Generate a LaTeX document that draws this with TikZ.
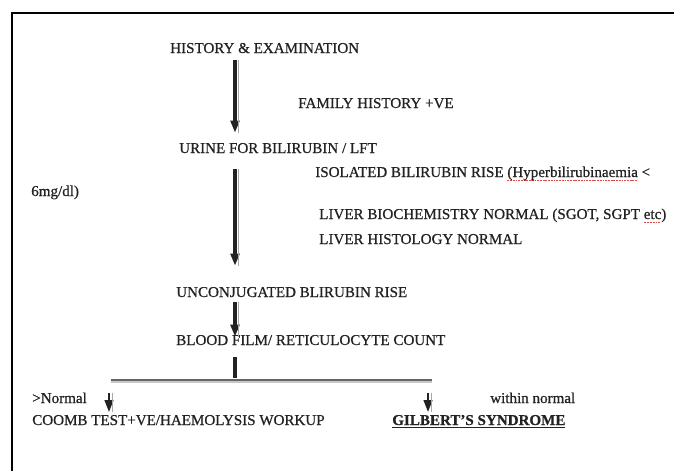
\documentclass[tikz,border=0pt]{standalone}
\usepackage{fontspec}
\setmainfont{Liberation Serif}
\usepackage{xcolor}
\usetikzlibrary{arrows.meta,calc,positioning}
\definecolor{ink}{HTML}{222222}
\definecolor{shade}{HTML}{A8A8A8}
\definecolor{spell}{HTML}{E04848}
\newsavebox\spellbox
\newcommand\spellmark[1]{\leavevmode\sbox\spellbox{#1}\rlap{\textcolor{spell}{\lower2.4pt\hbox to\wd\spellbox{\xleaders\hbox{\rule{1.4pt}{0.45pt}\kern0.6pt}\hfil}}}\usebox\spellbox}
\tikzset{lab/.style={anchor=base west, inner sep=0pt, text height=7.5pt, text depth=0pt, font=\fontsize{11.3}{13}\selectfont\addfontfeature{FakeBold=0.7}, text=ink}, flow/.style={-{Triangle[length=9pt,width=6.5pt]}, line width=2.3pt, color=ink, postaction={draw=shade, line width=.45pt, -, transform canvas={xshift=2.6pt}}}, stem/.style={line width=2.3pt, color=ink}, frame/.style={line width=2.2pt, color=black}}

\begin{document}
\begin{tikzpicture}[x=0.75pt,y=-0.75pt]
\useasboundingbox (0,0) rectangle (674,471);
\draw[frame] (12,471) -- (12,13) -- (674,13);
\node[lab] (hist) at (170,53) {HISTORY \& EXAMINATION};
\node[lab] (famhist) at (298,108) {FAMILY HISTORY +VE};
\node[lab] (urine) at (179,153) {URINE FOR BILIRUBIN / LFT};
\node[lab] (isolated) at (315,177) {ISOLATED BILIRUBIN RISE \spellmark{(Hyperbilirubinaemia} <};
\node[lab] (mgdl) at (31,196) {6mg/dl)};
\node[lab] (biochem) at (319,219) {LIVER BIOCHEMISTRY NORMAL (SGOT, SGPT \spellmark{etc})};
\node[lab] (histol) at (319,244) {LIVER HISTOLOGY NORMAL};
\node[lab] (unconj) at (176,297) {UNCONJUGATED BLIRUBIN RISE};
\node[lab] (blood) at (176,345) {BLOOD FILM/ RETICULOCYTE COUNT};
\node[lab] (abnorm) at (32,403) {>Normal};
\node[lab] (withinnorm) at (490,403) {within normal};
\node[lab] (coomb) at (32,425) {COOMB TEST+VE/HAEMOLYSIS WORKUP};
\node[lab] (gilbert) at (392,425) {\underline{\textbf{GILBERT'S SYNDROME}}};
\coordinate (ax) at (235,0);
\coordinate (bl) at (111,380); \coordinate (br) at (432,380);
\coordinate (lt) at (109,380); \coordinate (rt) at (428,380);
\draw[flow, shorten <=5.25pt, shorten >=7.5pt] (hist.south -| ax) -- (urine.north -| ax);
\draw[flow, shorten <=12pt, shorten >=15.75pt] (urine.south -| ax) -- (unconj.north -| ax);
\draw[flow, shorten <=3.75pt, shorten >=-1.5pt] (unconj.south -| ax) -- (blood.north -| ax);
\draw[stem, shorten <=9pt, shorten >=1.5pt] (blood.south -| ax) -- (bl -| ax);
\draw[line width=2pt, black!60] (bl) -- (br);
\draw[line width=1.2pt, black!22] ([yshift=-1.6pt]bl) -- ([yshift=-1.6pt]br);
\draw[flow, line width=1.6pt, shorten <=9.75pt, shorten >=2pt] (lt) -- (coomb.north -| lt);
\draw[flow, line width=1.6pt, shorten <=9.75pt, shorten >=2pt] (rt) -- (gilbert.north -| rt);
\end{tikzpicture}
\end{document}
